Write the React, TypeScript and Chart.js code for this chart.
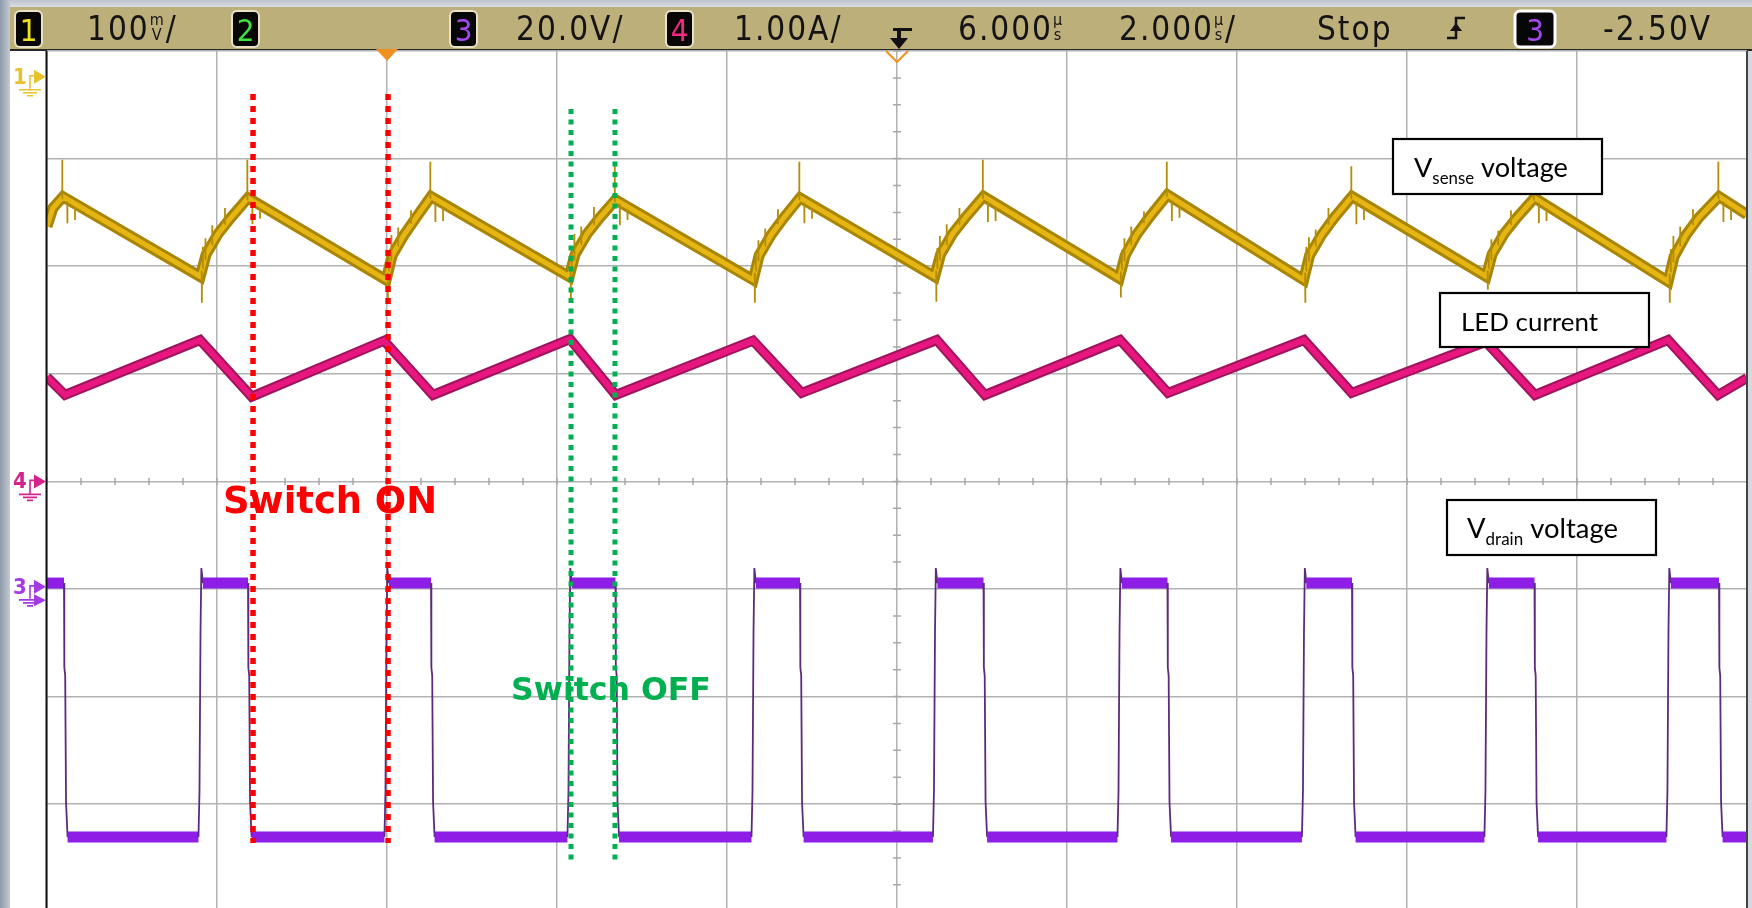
import React, { useEffect, useRef } from 'react';
import { Chart, registerables } from 'chart.js';

Chart.register(...registerables);

const W = 1752;
const H = 908;

// ---------- scope graticule ----------
const TIME_MIN_US = -4;
const TIME_MAX_US = 16;
const TIME_DIV_US = 2;
const DIV_TOP = 4;
const DIV_BOTTOM = -3.965;
const GRID_DIVS = [-3, -2, -1, 0, 1, 2, 3, 4];

const CH1_MV_PER_DIV = 100;
const CH1_GROUND_DIV = 3.76;
const CH3_V_PER_DIV = 20;
const CH3_GROUND_DIV = -0.98;
const CH4_A_PER_DIV = 1;
const CH4_GROUND_DIV = 0;

// ---------- Channel 1 : Vsense (mV) ----------
const vsenseTimeUs = [
  -4.0, -3.93, -3.812,
  -2.198, -2.128, -1.988, -1.838, -1.635,
  -0.01, 0.06, 0.2, 0.35, 0.518,
  2.143, 2.213, 2.353, 2.503, 2.688,
  4.308, 4.378, 4.518, 4.668, 4.859,
  6.443, 6.513, 6.653, 6.803, 7.018,
  8.614, 8.684, 8.824, 8.974, 9.182,
  10.784, 10.854, 10.994, 11.144, 11.353,
  12.931, 13.001, 13.141, 13.291, 13.5,
  15.072, 15.142, 15.282, 15.432, 15.671,
  16.0,
];
const vsenseMv = [
  -139, -122, -111.5,
  -185.6, -165, -146, -131, -112.5,
  -188.7, -166, -147, -130, -111.2,
  -185.6, -165, -146, -131, -114.3,
  -188.7, -166, -147, -131, -112.5,
  -185.6, -165, -146, -131, -111.2,
  -187.2, -166, -146, -130, -109.7,
  -188.7, -166, -147, -131, -111.2,
  -185.6, -165, -146, -131, -112.5,
  -190.2, -167, -147, -131, -111.2,
  -128,
];
// noise spikes on the Vsense trace: time, start level, tip level
const vsensePeakSpikeTimeUs = [-3.822, -1.645, 0.508, 2.678, 4.849, 7.008, 9.172, 11.343, 13.49, 15.661];
const vsensePeakSpikeBaseMv = [-113, -114, -113, -116, -114, -113, -111, -113, -114, -113];
const vsensePeakSpikeTipMv = [-77, -77, -79, -83, -79, -77, -79, -83, -80, -79];
const vsenseTroughSpikeTimeUs = [-2.18, 0.008, 2.161, 4.326, 6.461, 8.632, 10.802, 12.949, 15.09];
const vsenseTroughSpikeBaseMv = [-180, -182, -180, -182, -180, -181, -182, -180, -183];
const vsenseTroughSpikeTipMv = [-210, -207, -207, -210, -209, -205, -210, -198, -210];
const vsenseRiseSpikeTimeUs = [
  -2.168, -2.138, -2.058, -1.908,
  0.02, 0.05, 0.13, 0.28,
  2.173, 2.203, 2.283, 2.433,
  4.338, 4.368, 4.448, 4.598,
  6.473, 6.503, 6.583, 6.733,
  8.644, 8.674, 8.754, 8.904,
  10.814, 10.844, 10.924, 11.074,
  12.961, 12.991, 13.071, 13.221,
  15.102, 15.132, 15.212, 15.362,
];
const vsenseRiseSpikeBaseMv = [
  -178, -170, -156, -137,
  -180, -171, -157, -136,
  -178, -170, -156, -137,
  -180, -171, -157, -137,
  -178, -170, -156, -137,
  -179, -171, -156, -136,
  -180, -171, -157, -137,
  -178, -170, -156, -137,
  -181, -172, -157, -137,
];
const vsenseRiseSpikeTipMv = [
  -158, -150, -138, -122,
  -162, -147, -140, -124,
  -160, -146, -139, -121,
  -163, -152, -141, -123,
  -159, -148, -137, -122,
  -161, -150, -139, -125,
  -158, -149, -142, -122,
  -162, -151, -143, -124,
  -160, -148, -139, -123,
];
const vsenseFallSpikeTimeUs = [
  -3.762, -3.672, -1.585, -1.495, 0.568, 0.658, 2.738, 2.828, 4.909, 4.999,
  7.068, 7.158, 9.232, 9.322, 11.403, 11.493, 13.55, 13.64, 15.721, 15.811,
];
const vsenseFallSpikeBaseMv = [
  -116, -121, -117, -122, -116, -121, -118, -123, -117, -122,
  -116, -121, -115, -120, -116, -121, -117, -122, -116, -121,
];
const vsenseFallSpikeTipMv = [
  -136, -133, -137, -132, -135, -134, -138, -133, -136, -132,
  -135, -134, -134, -131, -137, -133, -136, -134, -135, -133,
];

// ---------- Channel 4 : LED current (A) ----------
const ledTimeUs = [
  -4.0, -3.788, -2.2, -1.592, -0.035, 0.541, 2.153, 2.691, 4.306, 4.879,
  6.467, 7.035, 8.624, 9.188, 10.788, 11.349, 12.929, 13.506, 15.071, 15.659, 16.0,
];
const ledA = [
  0.97, 0.803, 1.314, 0.787, 1.308, 0.803, 1.323, 0.803, 1.308, 0.822,
  1.314, 0.803, 1.314, 0.822, 1.314, 0.822, 1.296, 0.803, 1.314, 0.803, 0.961,
];

// ---------- Channel 3 : Vdrain (V) ----------
const drainRiseTimeUs = [-2.188, 0.0, 2.153, 4.318, 6.453, 8.624, 10.794, 12.941, 15.082];
const drainFallTimeUs = [-3.8, -1.635, 0.518, 2.688, 4.859, 7.018, 9.182, 11.353, 13.5, 15.671];
const DRAIN_HIGH_V = 0.7;
const DRAIN_LOW_V = -46.5;
const drainRiseEdgeDtUs = [-0.03, -0.018, -0.006, 0.004, 0.022];
const drainRiseEdgeV = [-46.5, -38, -8.5, 3.5, 0.7];
const drainFallEdgeDtUs = [0, 0.004, 0.014, 0.024, 0.042];
const drainFallEdgeV = [0.7, -15, -16.5, -40, -46.5];

// ---------- annotations ----------
const switchOnTimeUs = [-1.576, 0.012];
const switchOffTimeUs = [2.165, 2.682];

// ---------- status-bar text (string, or [upper, lower] stacked unit) ----------
type Part = string | [string, string];
const statusItems: { x: number; parts: Part[] }[] = [
  { x: 87, parts: ['100', ['m', 'V'], '/'] },
  { x: 516, parts: ['20.0V/'] },
  { x: 734, parts: ['1.00A/'] },
  { x: 958, parts: ['6.000', ['\u00b5', 's']] },
  { x: 1119, parts: ['2.000', ['\u00b5', 's'], '/'] },
  { x: 1317, parts: ['Stop'] },
  { x: 1603, parts: ['-2.50V'] },
];

// ---------- helpers ----------
const COND = '"DejaVu Sans Condensed", "Liberation Sans Narrow", "Liberation Sans", sans-serif';

function pts(xs: number[], ys: number[]) {
  return xs.map((x, i) => ({ x, y: ys[i] }));
}

function spikes(ts: number[], bases: number[], tips: number[]) {
  const out: any[] = [];
  ts.forEach((t, i) => {
    out.push({ x: t, y: bases[i] });
    out.push({ x: t + 0.002, y: tips[i] });
    out.push({ x: t + 0.003, y: null });
  });
  return out;
}

function buildDrain() {
  const events = [
    ...drainRiseTimeUs.map((t) => ({ t, rise: true })),
    ...drainFallTimeUs.map((t) => ({ t, rise: false })),
  ].sort((a, b) => a.t - b.t);
  const out = [{ x: TIME_MIN_US, y: DRAIN_HIGH_V }];
  for (const e of events) {
    const dts = e.rise ? drainRiseEdgeDtUs : drainFallEdgeDtUs;
    const vs = e.rise ? drainRiseEdgeV : drainFallEdgeV;
    dts.forEach((dt, i) => out.push({ x: e.t + dt, y: vs[i] }));
  }
  out.push({ x: TIME_MAX_US, y: DRAIN_LOW_V });
  return out;
}

function chAxis(perDiv: number, groundDiv: number) {
  return {
    type: 'linear' as const,
    display: false,
    min: (DIV_BOTTOM - groundDiv) * perDiv,
    max: (DIV_TOP - groundDiv) * perDiv,
  };
}

function font(ctx: CanvasRenderingContext2D, size: number, weight = 'normal', family = COND) {
  ctx.font = `${weight} ${size}px ${family}`;
}

function chanBox(ctx: CanvasRenderingContext2D, x: number, w: number, digit: string, color: string, border: string, bw: number) {
  ctx.beginPath();
  (ctx as any).roundRect(x, 11, w, 36, 5);
  ctx.fillStyle = '#070707';
  ctx.fill();
  ctx.lineWidth = bw;
  ctx.strokeStyle = border;
  ctx.stroke();
  font(ctx, 31);
  ctx.fillStyle = color;
  ctx.textAlign = 'center';
  ctx.fillText(digit, x + w / 2, 41);
  ctx.textAlign = 'left';
}

function drawChrome(ctx: CanvasRenderingContext2D) {
  ctx.save();
  ctx.fillStyle = '#FFFFFF';
  ctx.fillRect(0, 0, W, H);
  const lg = ctx.createLinearGradient(0, 0, 11, 0);
  lg.addColorStop(0, '#8E9AA9');
  lg.addColorStop(1, '#C8CFD8');
  ctx.fillStyle = lg;
  ctx.fillRect(0, 0, 10, H);
  const tg = ctx.createLinearGradient(0, 0, 0, 7);
  tg.addColorStop(0, '#BBC3CD');
  tg.addColorStop(1, '#D9DEE4');
  ctx.fillStyle = tg;
  ctx.fillRect(10, 0, W - 10, 7);
  ctx.fillStyle = '#BDAF79';
  ctx.fillRect(10, 7, W - 10, 43);
  ctx.fillStyle = '#262626';
  ctx.fillRect(10, 49, W - 10, 2);

  chanBox(ctx, 15, 27, '1', '#F2E21A', '#E9E2C6', 2);
  chanBox(ctx, 232, 27, '2', '#3FE33F', '#E9E2C6', 2);
  chanBox(ctx, 450, 27, '3', '#A548F0', '#E9E2C6', 2);
  chanBox(ctx, 666, 27, '4', '#F0287F', '#E9E2C6', 2);
  chanBox(ctx, 1515, 40, '3', '#A548F0', '#FFFFFF', 3);

  ctx.fillStyle = '#141414';
  for (const item of statusItems) {
    let x = item.x;
    for (const p of item.parts) {
      if (typeof p === 'string') {
        (ctx as any).letterSpacing = '2px';
        font(ctx, 33);
        ctx.fillText(p, x, 40);
        x += ctx.measureText(p).width;
        (ctx as any).letterSpacing = '0px';
      } else {
        font(ctx, 16);
        const w = Math.max(ctx.measureText(p[0]).width, ctx.measureText(p[1]).width);
        ctx.fillText(p[0], x + (w - ctx.measureText(p[0]).width) / 2, 25);
        ctx.fillText(p[1], x + (w - ctx.measureText(p[1]).width) / 2, 40);
        x += w + 2;
      }
    }
  }

  // trigger position icon
  ctx.fillStyle = '#111';
  ctx.fillRect(893, 28, 19, 3);
  ctx.fillRect(897, 28, 4, 12);
  ctx.beginPath();
  ctx.moveTo(890, 38);
  ctx.lineTo(908, 38);
  ctx.lineTo(899, 49);
  ctx.closePath();
  ctx.fill();

  // edge icon
  ctx.strokeStyle = '#111';
  ctx.lineWidth = 2.5;
  ctx.beginPath();
  ctx.moveTo(1447, 38);
  ctx.lineTo(1456, 38);
  ctx.lineTo(1456, 18);
  ctx.lineTo(1465, 18);
  ctx.stroke();
  ctx.beginPath();
  ctx.moveTo(1450, 31);
  ctx.lineTo(1462, 31);
  ctx.lineTo(1456, 23);
  ctx.closePath();
  ctx.fill();
  ctx.restore();
}

function marker(ctx: CanvasRenderingContext2D, label: string, y: number, color: string, extraArrowY?: number) {
  ctx.save();
  ctx.fillStyle = color;
  ctx.strokeStyle = color;
  font(ctx, 22, 'bold');
  ctx.fillText(label, 13, y + 7);
  ctx.beginPath();
  ctx.moveTo(34, y - 7);
  ctx.lineTo(46, y);
  ctx.lineTo(34, y + 7);
  ctx.closePath();
  ctx.fill();
  if (extraArrowY !== undefined) {
    ctx.beginPath();
    ctx.moveTo(34, extraArrowY - 6);
    ctx.lineTo(46, extraArrowY);
    ctx.lineTo(34, extraArrowY + 6);
    ctx.closePath();
    ctx.fill();
  }
  ctx.lineWidth = 1.6;
  ctx.beginPath();
  ctx.moveTo(34, y - 1);
  ctx.lineTo(30, y - 1);
  ctx.lineTo(30, y + 12);
  ctx.moveTo(19, y + 13);
  ctx.lineTo(41, y + 13);
  ctx.moveTo(23, y + 16);
  ctx.lineTo(37, y + 16);
  ctx.moveTo(27, y + 19);
  ctx.lineTo(33, y + 19);
  ctx.stroke();
  ctx.restore();
}

function fitFont(ctx: CanvasRenderingContext2D, text: string, target: number, weight: string, family: string) {
  ctx.font = `${weight} 40px ${family}`;
  const w = ctx.measureText(text).width;
  return (40 * target) / w;
}

function labelBox(
  ctx: CanvasRenderingContext2D,
  x0: number, y0: number, x1: number, y1: number,
  main: string, sub: string, rest: string,
  tx: number, baseline: number, targetW: number,
) {
  ctx.save();
  ctx.fillStyle = '#FFFFFF';
  ctx.fillRect(x0, y0, x1 - x0, y1 - y0);
  ctx.strokeStyle = '#000';
  ctx.lineWidth = 2.2;
  ctx.strokeRect(x0, y0, x1 - x0, y1 - y0);
  const fam = 'Lato, "Open Sans", sans-serif';
  ctx.font = `normal 40px ${fam}`;
  const wMain = ctx.measureText(main).width + ctx.measureText(rest).width;
  ctx.font = `normal ${40 * 0.62}px ${fam}`;
  const wSub = sub ? ctx.measureText(sub).width : 0;
  const size = (40 * targetW) / (wMain + wSub);
  ctx.fillStyle = '#000';
  ctx.font = `normal ${size}px ${fam}`;
  let x = tx;
  ctx.fillText(main, x, baseline);
  x += ctx.measureText(main).width;
  if (sub) {
    ctx.font = `normal ${size * 0.62}px ${fam}`;
    ctx.fillText(sub, x, baseline + 7);
    x += ctx.measureText(sub).width;
    ctx.font = `normal ${size}px ${fam}`;
  }
  ctx.fillText(rest, x, baseline);
  ctx.restore();
}

const chromePlugin = {
  id: 'scopeChrome',
  beforeDraw(chart: any) {
    drawChrome(chart.ctx);
  },
  beforeDatasetsDraw(chart: any) {
    const ctx: CanvasRenderingContext2D = chart.ctx;
    const xs = chart.scales.x;
    const ys = chart.scales.y;
    const cx = xs.getPixelForValue((TIME_MIN_US + TIME_MAX_US) / 2);
    const cy = ys.getPixelForValue(0);
    ctx.save();
    ctx.strokeStyle = '#A9A9A9';
    ctx.lineWidth = 1.5;
    ctx.beginPath();
    for (let i = 0; i <= 50; i++) {
      const px = xs.getPixelForValue(TIME_MIN_US + (i * TIME_DIV_US) / 5);
      ctx.moveTo(px, cy - 3.5);
      ctx.lineTo(px, cy + 3.5);
    }
    for (let i = -16; i <= 16; i++) {
      const py = ys.getPixelForValue(i / 4);
      ctx.moveTo(cx - 4, py);
      ctx.lineTo(cx + 4, py);
    }
    ctx.stroke();
    ctx.restore();
  },
  afterDatasetsDraw(chart: any) {
    const ctx: CanvasRenderingContext2D = chart.ctx;
    const xs = chart.scales.x;
    const ys = chart.scales.y;
    const a = chart.chartArea;
    ctx.save();
    ctx.fillStyle = '#111';
    ctx.fillRect(a.left - 1.5, a.top, 2, a.bottom - a.top);
    ctx.fillStyle = '#444';
    ctx.fillRect(a.right - 1, a.top, 2, a.bottom - a.top);
    ctx.fillStyle = '#D5DAE0';
    ctx.fillRect(a.right + 1, a.top, W - a.right, a.bottom - a.top);

    // orange reference markers
    ctx.fillStyle = '#F0901E';
    const tx0 = xs.getPixelForValue(0);
    ctx.beginPath();
    ctx.moveTo(tx0 - 11, a.top - 2);
    ctx.lineTo(tx0 + 11, a.top - 2);
    ctx.lineTo(tx0, a.top + 10);
    ctx.closePath();
    ctx.fill();
    const tc = xs.getPixelForValue((TIME_MIN_US + TIME_MAX_US) / 2);
    ctx.strokeStyle = '#F0901E';
    ctx.lineWidth = 2;
    ctx.beginPath();
    ctx.moveTo(tc - 11, a.top);
    ctx.lineTo(tc, a.top + 11);
    ctx.lineTo(tc + 11, a.top);
    ctx.stroke();

    // dotted switch lines
    ctx.setLineDash([6, 6]);
    ctx.lineWidth = 5.5;
    ctx.strokeStyle = '#FF0000';
    switchOnTimeUs.forEach((t) => {
      const px = xs.getPixelForValue(t);
      ctx.beginPath();
      ctx.moveTo(px, ys.getPixelForValue(3.6));
      ctx.lineTo(px, ys.getPixelForValue(-3.36));
      ctx.stroke();
    });
    ctx.setLineDash([5, 5.5]);
    ctx.lineWidth = 5;
    ctx.strokeStyle = '#00B050';
    switchOffTimeUs.forEach((t) => {
      const px = xs.getPixelForValue(t);
      ctx.beginPath();
      ctx.moveTo(px, ys.getPixelForValue(3.46));
      ctx.lineTo(px, ys.getPixelForValue(-3.52));
      ctx.stroke();
    });
    ctx.setLineDash([]);

    const dv = '"DejaVu Sans", Verdana, sans-serif';
    let s = fitFont(ctx, 'Switch ON', 214, 'bold', dv);
    ctx.font = `bold ${s}px ${dv}`;
    ctx.fillStyle = '#FF0000';
    ctx.fillText('Switch ON', xs.getPixelForValue(-1.929), ys.getPixelForValue(-0.294));
    s = fitFont(ctx, 'Switch OFF', 200, 'bold', dv);
    ctx.font = `bold ${s}px ${dv}`;
    ctx.fillStyle = '#00B050';
    ctx.fillText('Switch OFF', xs.getPixelForValue(1.459), ys.getPixelForValue(-2.032));
    ctx.restore();

    labelBox(ctx, 1393, 139, 1602, 194, 'V', 'sense', ' voltage', 1414, 177, 154);
    labelBox(ctx, 1440, 293, 1649, 347, 'LED current', '', '', 1461, 331, 137);
    labelBox(ctx, 1447, 500, 1656, 555, 'V', 'drain', ' voltage', 1467, 538, 151);

    marker(ctx, '1', ys.getPixelForValue(CH1_GROUND_DIV), '#E8C22E');
    marker(ctx, '4', ys.getPixelForValue(CH4_GROUND_DIV), '#D4238C');
    marker(ctx, '3', ys.getPixelForValue(CH3_GROUND_DIV), '#A43AE6', ys.getPixelForValue(CH3_GROUND_DIV - 2.5 / CH3_V_PER_DIV));
  },
};

export default function App() {
  const ref = useRef<HTMLCanvasElement>(null);
  useEffect(() => {
    document.body.style.margin = '0';
    const canvas = ref.current!;
    const vsensePts = pts(vsenseTimeUs, vsenseMv);
    const ledPts = pts(ledTimeUs, ledA);
    const spikePts = [
      ...spikes(vsensePeakSpikeTimeUs, vsensePeakSpikeBaseMv, vsensePeakSpikeTipMv),
      ...spikes(vsenseTroughSpikeTimeUs, vsenseTroughSpikeBaseMv, vsenseTroughSpikeTipMv),
      ...spikes(vsenseRiseSpikeTimeUs, vsenseRiseSpikeBaseMv, vsenseRiseSpikeTipMv),
      ...spikes(vsenseFallSpikeTimeUs, vsenseFallSpikeBaseMv, vsenseFallSpikeTipMv),
    ];
    const drainPts = buildDrain();
    const common = { pointRadius: 0, tension: 0, clip: 0, fill: false, spanGaps: false } as any;
    const grid = { color: '#B2B2B2', lineWidth: 1.5, drawTicks: false };
    const chart = new Chart(canvas, {
      type: 'line',
      data: {
        datasets: [
          { ...common, label: 'Vsense outline', data: vsensePts, yAxisID: 'y1', borderColor: '#A98506', borderWidth: 11, order: 5 },
          { ...common, label: 'Vsense voltage', data: vsensePts, yAxisID: 'y1', borderColor: '#E5B512', borderWidth: 5, order: 4 },
          { ...common, label: 'Vsense noise', data: spikePts, yAxisID: 'y1', borderColor: '#B48D08', borderWidth: 1.8, order: 3 },
          { ...common, label: 'LED outline', data: ledPts, yAxisID: 'y4', borderColor: '#A0145E', borderWidth: 10, order: 5 },
          { ...common, label: 'LED current', data: ledPts, yAxisID: 'y4', borderColor: '#E8177F', borderWidth: 6, order: 4 },
          {
            ...common,
            label: 'Vdrain voltage',
            data: drainPts,
            yAxisID: 'y3',
            borderColor: '#8E1DE6',
            borderWidth: 11,
            borderJoinStyle: 'bevel',
            order: 4,
            segment: {
              borderWidth: (c: any) => (Math.abs(c.p0.parsed.y - c.p1.parsed.y) < 0.5 ? 11 : 1.8),
              borderColor: (c: any) => (Math.abs(c.p0.parsed.y - c.p1.parsed.y) < 0.5 ? '#8E1DE6' : '#5B2C7C'),
            },
          },
        ],
      },
      options: {
        animation: false,
        responsive: false,
        devicePixelRatio: 1,
        events: [],
        layout: { padding: { left: 47, top: 51, right: 5, bottom: 0 } },
        plugins: { legend: { display: false }, tooltip: { enabled: false } },
        scales: {
          x: {
            type: 'linear',
            min: TIME_MIN_US,
            max: TIME_MAX_US,
            ticks: { display: false, stepSize: TIME_DIV_US },
            grid,
            border: { display: false },
          },
          y: {
            type: 'linear',
            min: DIV_BOTTOM,
            max: DIV_TOP,
            afterBuildTicks: (axis: any) => {
              axis.ticks = GRID_DIVS.map((v) => ({ value: v }));
            },
            ticks: { display: false },
            grid,
            border: { display: false },
          },
          y1: chAxis(CH1_MV_PER_DIV, CH1_GROUND_DIV),
          y3: chAxis(CH3_V_PER_DIV, CH3_GROUND_DIV),
          y4: chAxis(CH4_A_PER_DIV, CH4_GROUND_DIV),
        },
      } as any,
      plugins: [chromePlugin],
    });
    return () => chart.destroy();
  }, []);
  return (
    <div style={{ position: 'absolute', left: 0, top: 0, width: W, height: H }}>
      <canvas ref={ref} width={W} height={H} style={{ display: 'block', width: W, height: H }} />
    </div>
  );
}
